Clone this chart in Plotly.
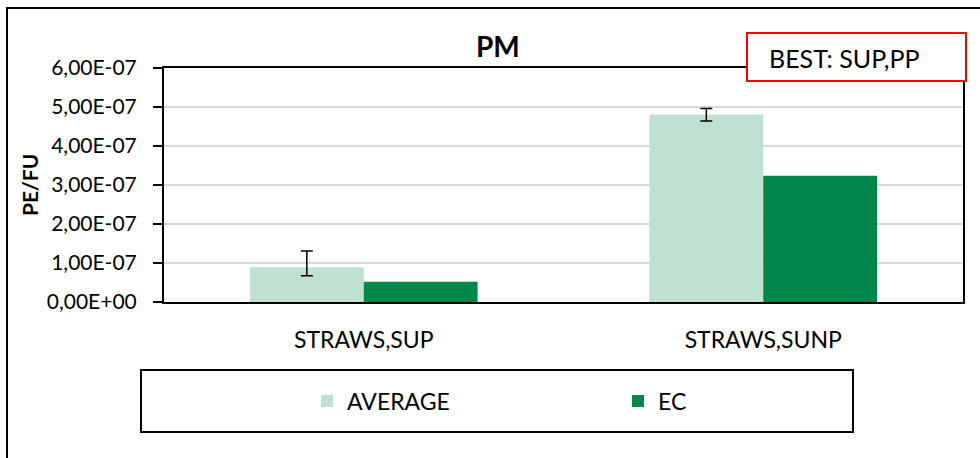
import plotly.graph_objects as go

categories = ["STRAWS,SUP", "STRAWS,SUNP"]
average_values = [0.89e-7, 4.81e-7]
average_err_plus = [0.42e-7, 0.15e-7]
average_err_minus = [0.22e-7, 0.17e-7]
ec_values = [0.52e-7, 3.24e-7]
y_tickvals = [0, 1e-7, 2e-7, 3e-7, 4e-7, 5e-7, 6e-7]
y_ticktext = ["0,00E+00", "1,00E-07", "2,00E-07", "3,00E-07", "4,00E-07", "5,00E-07", "6,00E-07"]

FONT = "Lato"
W, H = 980, 458
L, R, T, B = 164, 17, 68, 156
PW = W - L - R
PH = H - T - B


def px(x):
    return (x - L) / PW


def py(y):
    return (H - B - y) / PH


fig = go.Figure()
fig.add_trace(go.Bar(
    name="AVERAGE", x=categories, y=average_values,
    marker=dict(color="#BFE1D1", line=dict(width=0)),
    error_y=dict(type="data", symmetric=False, array=average_err_plus,
                 arrayminus=average_err_minus, color="black", thickness=1.5, width=6),
))
fig.add_trace(go.Bar(
    name="EC", x=categories, y=ec_values,
    marker=dict(color="#00874A", line=dict(width=0)),
))

fig.update_layout(
    width=W, height=H,
    margin=dict(l=L, r=R, t=T, b=B, autoexpand=False),
    paper_bgcolor="white", plot_bgcolor="white",
    barmode="group", bargap=0.43, bargroupgap=0,
    font=dict(family=FONT, size=20, color="black"),
    showlegend=True,
    legend=dict(orientation="h", x=px(307), xanchor="left", y=py(401), yanchor="middle",
                entrywidth=266, entrywidthmode="pixels", bgcolor="rgba(0,0,0,0)",
                font=dict(family=FONT, size=23)),
)
fig.update_xaxes(showline=True, linecolor="black", linewidth=2, mirror=True,
                 ticks="", tickfont=dict(family=FONT, size=23), ticklabelstandoff=16,
                 showgrid=False)
fig.update_yaxes(range=[0, 6e-7], tickvals=y_tickvals, ticktext=y_ticktext,
                 showline=True, linecolor="black", linewidth=2, mirror=True,
                 ticks="outside", ticklen=9, tickcolor="black", tickwidth=1.5,
                 tickfont=dict(family=FONT, size=21), ticklabelstandoff=12,
                 showgrid=True, gridcolor="#D9D9D9", gridwidth=1.5, zeroline=False)

shapes = [
    # outer chart frame
    dict(type="rect", xref="paper", yref="paper", x0=px(7), x1=px(1010), y0=py(480), y1=py(8),
         line=dict(color="black", width=2), fillcolor="rgba(0,0,0,0)", layer="below"),
    # legend frame
    dict(type="rect", xref="paper", yref="paper", x0=px(141), x1=px(853), y0=py(432), y1=py(370),
         line=dict(color="black", width=2), fillcolor="rgba(0,0,0,0)", layer="above"),
    # best box
    dict(type="rect", xref="paper", yref="paper", x0=px(747), x1=px(966), y0=py(81), y1=py(33),
         line=dict(color="#FF0000", width=2), fillcolor="white", layer="above"),
]
fig.update_layout(shapes=shapes)

fig.add_annotation(text="<b>PM</b>", xref="paper", yref="paper", x=px(498), y=py(46),
                   xanchor="center", yanchor="middle", showarrow=False,
                   font=dict(family=FONT, size=28, color="black"))
fig.add_annotation(text="<b>PE/FU</b>", xref="paper", yref="paper", x=px(29), y=py(185),
                   xanchor="center", yanchor="middle", showarrow=False, textangle=-90,
                   font=dict(family=FONT, size=21, color="black"))
fig.add_annotation(text="BEST: SUP,PP", xref="paper", yref="paper", x=px(767), y=py(58),
                   xanchor="left", yanchor="middle", showarrow=False,
                   font=dict(family=FONT, size=25, color="black"))

fig.write_html("out.html", config={"displayModeBar": False},
               post_script="document.body.style.margin='0';")
